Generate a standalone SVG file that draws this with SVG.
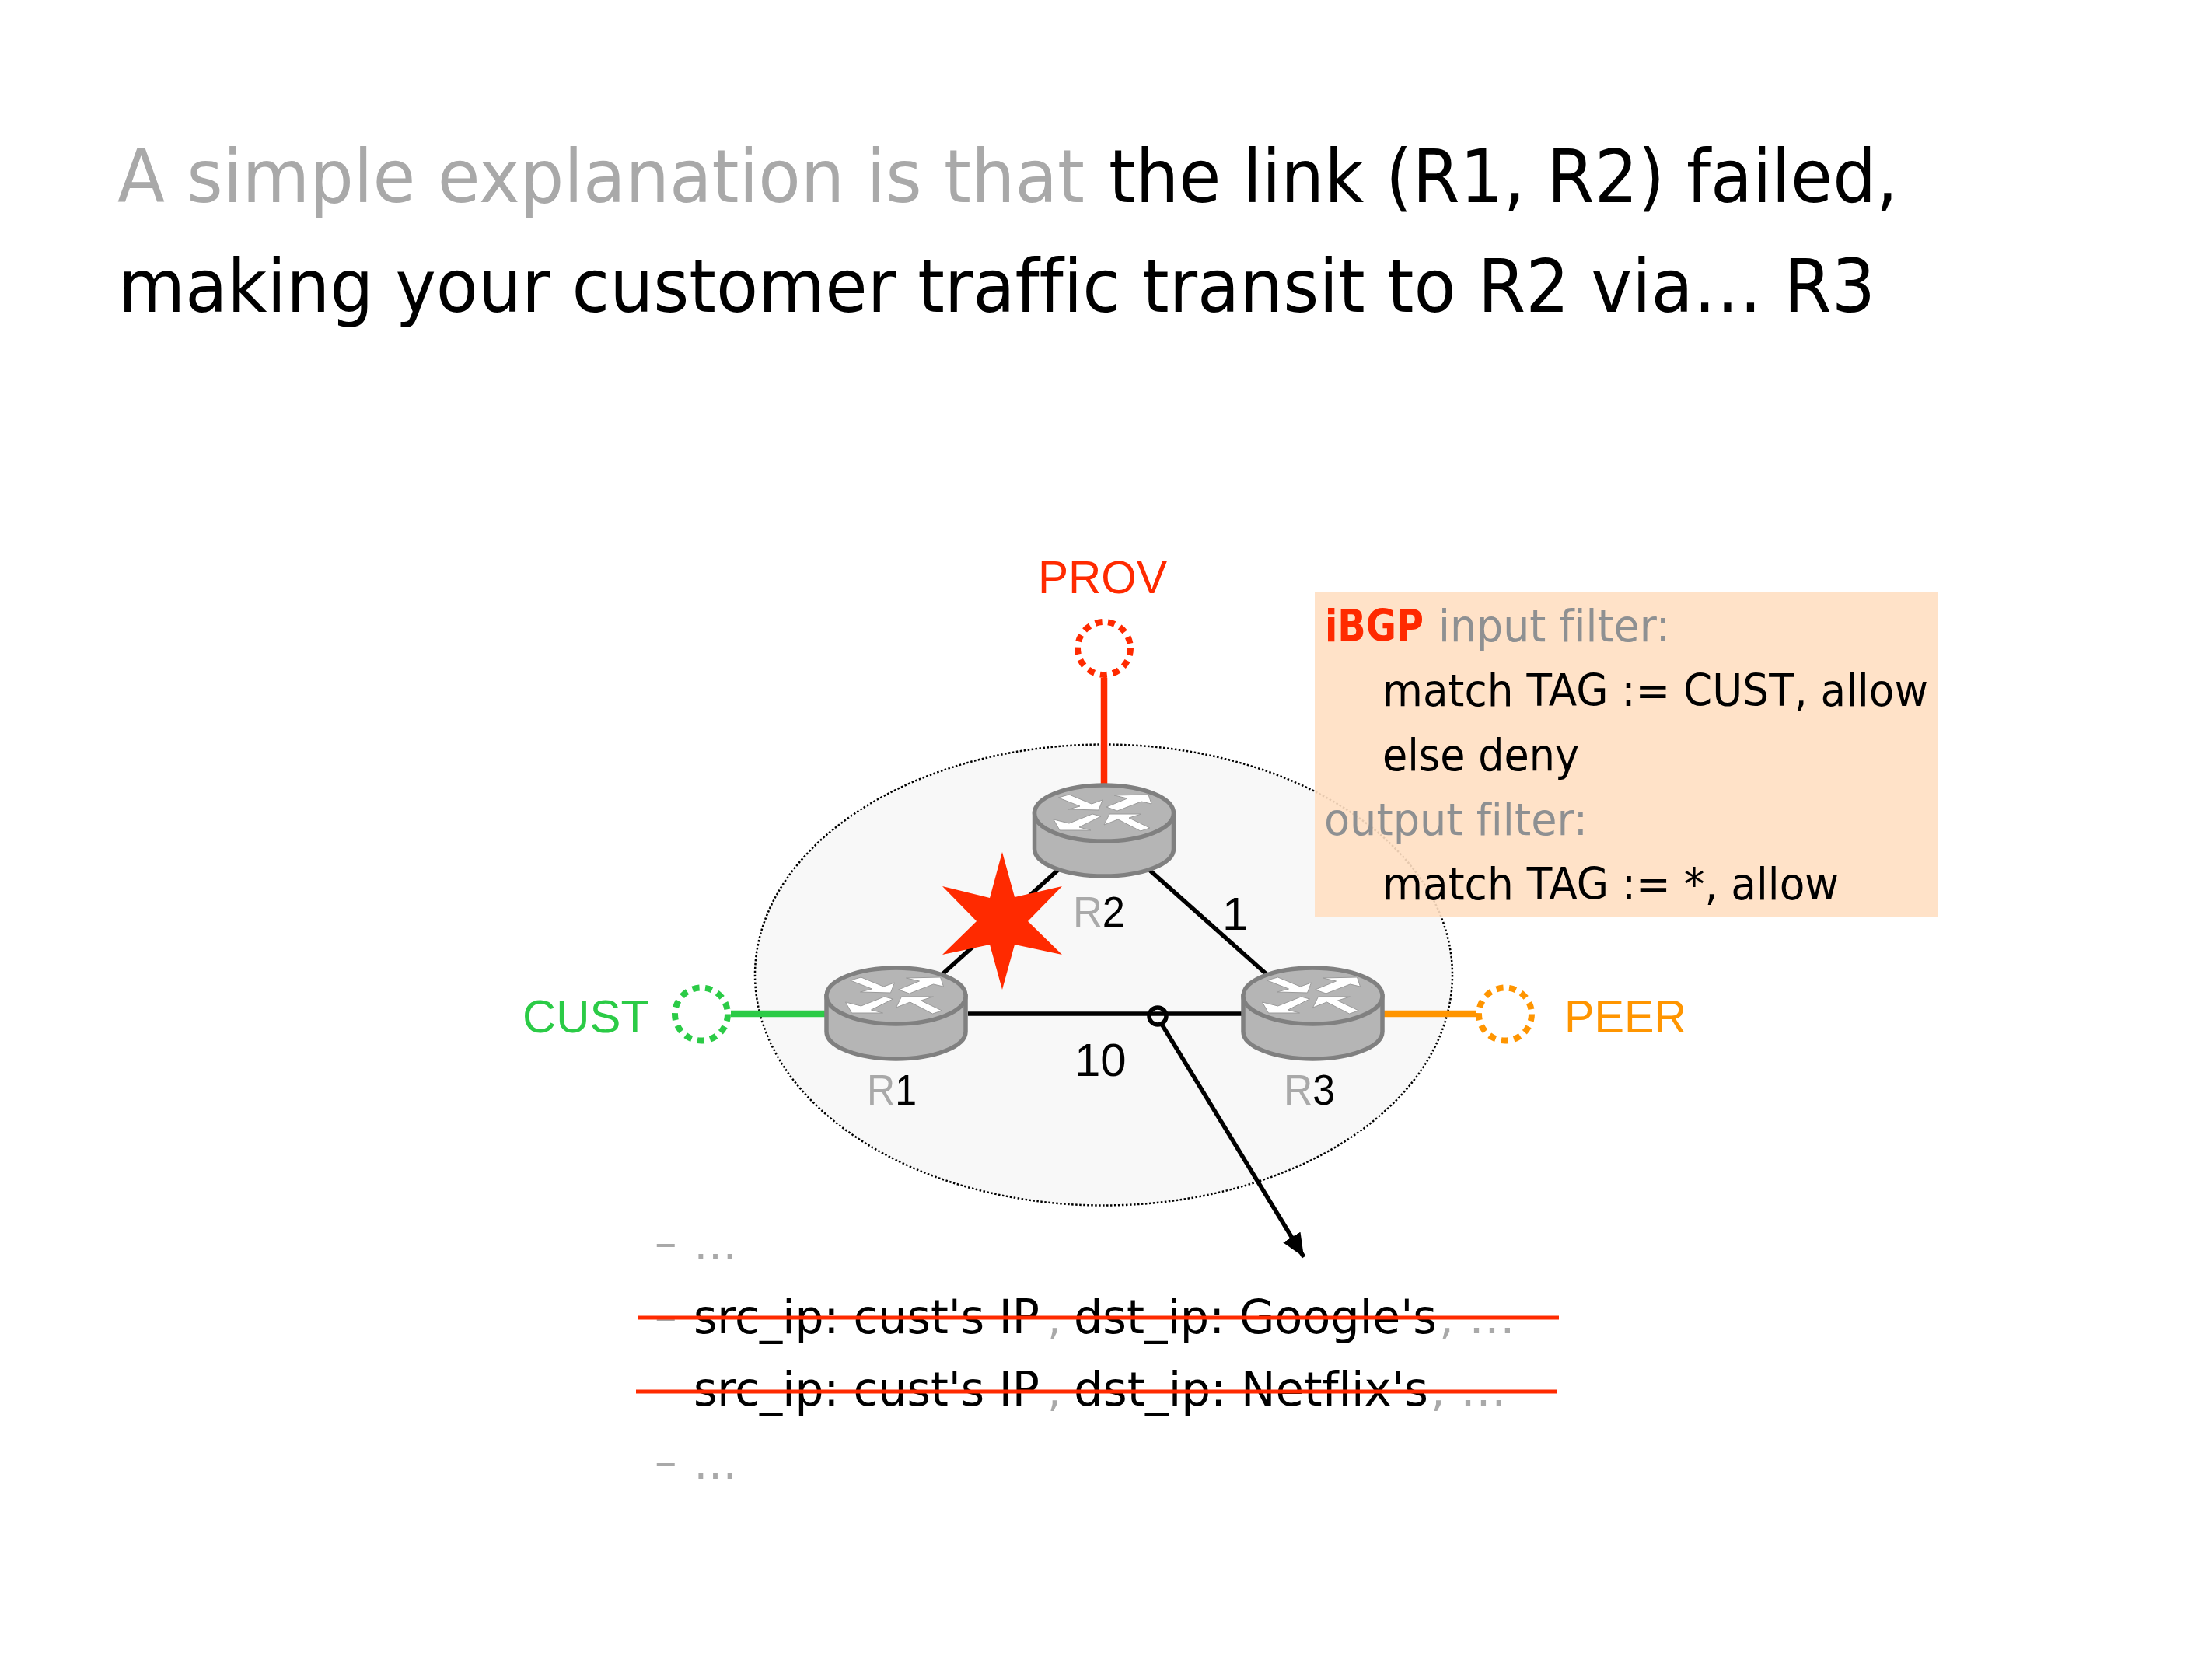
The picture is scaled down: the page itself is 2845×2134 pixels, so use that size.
<svg xmlns="http://www.w3.org/2000/svg" xmlns:xlink="http://www.w3.org/1999/xlink" width="2845" height="2134" viewBox="0 0 2845 2134">
<style>
text{font-family:"DejaVu Sans",sans-serif;font-variant-ligatures:none}
.h{font-size:94px}
.b{font-size:57px}
.m{font-size:60px}
.l{font-family:"Liberation Sans",Arial,sans-serif;font-size:60px}
.r{font-family:"Liberation Sans",Arial,sans-serif;font-size:56px}
.g{fill:#a9a9a9}
.k{fill:#000}
.f{fill:#8e9092}
.link{stroke:#000;stroke-width:5.5;fill:none}
.port{fill:none;stroke-width:8;stroke-dasharray:9 7.5}
.stub{stroke-width:8.5;fill:none}
.body{fill:#b5b5b5;stroke:#808080;stroke-width:5.5}
.arr{fill:#fff;stroke:#9a9a9a;stroke-width:1}
</style>
<defs>
<g id="router">
<path class="body" d="M-89.5 0V46A89.5 35 0 0 0 89.5 46V0Z"/>
<ellipse class="body" cx="0" cy="0" rx="89.5" ry="36"/>
<polygon class="arr" points="-59,-20 -45,-24 -16,-12 -2,-17 -7,-4 -46,-5 -31,-9"/>
<polygon class="arr" points="3,-8 30,-19 13,-23 57,-24 61,-12 48,-15 17,-3"/>
<polygon class="arr" points="-65,8 -45,13 -15,1 -4,4 -32,18 -17,22 -57,22"/>
<polygon class="arr" points="0,15 7,1 48,1 32,6 59,19 47,23 18,8"/>
</g>
<marker id="head" markerUnits="userSpaceOnUse" markerWidth="34" markerHeight="30" refX="30" refY="13" orient="auto">
<polygon points="0,0 30,13 0,26" fill="#000"/>
</marker>
</defs>
<rect width="2845" height="2134" fill="#fff"/>
<g id="title">
<text class="h g" x="151" y="260" textLength="1244" lengthAdjust="spacingAndGlyphs">A simple explanation is that</text>
<text class="h k" x="1426" y="260" textLength="1015" lengthAdjust="spacingAndGlyphs">the link (R1, R2) failed,</text>
<text class="h k" x="152" y="401" textLength="2260" lengthAdjust="spacingAndGlyphs">making your customer traffic transit to R2 via… R3</text>
</g>
<g id="domain"><ellipse cx="1419.5" cy="1254" rx="448.5" ry="296.5" fill="#f8f8f8" stroke="#000" stroke-width="2.5" stroke-dasharray="2.5 2.5"/></g>
<g id="connectors">
<line class="link" x1="1211" y1="1254" x2="1362" y2="1118"/>
<line class="link" x1="1476" y1="1117" x2="1630" y2="1254"/>
<line class="link" x1="1245" y1="1304" x2="1597" y2="1304"/>
<line class="stub" stroke="#2bcb46" x1="940" y1="1304" x2="1062" y2="1304"/>
<line class="stub" stroke="#ff2a00" x1="1420" y1="872" x2="1420" y2="1010"/>
<line class="stub" stroke="#ff9500" x1="1778" y1="1304" x2="1898" y2="1304"/>
<line class="link" x1="1494" y1="1317" x2="1677" y2="1617" marker-end="url(#head)"/>
<circle cx="1489" cy="1307" r="11" fill="none" stroke="#000" stroke-width="5.5"/>
</g>
<g id="R2"><use href="#router" x="1420" y="1046"/><text class="r" x="1380" y="1192" textLength="67" lengthAdjust="spacingAndGlyphs"><tspan class="g">R</tspan><tspan class="k">2</tspan></text></g>
<g id="R1"><use href="#router" x="1152.5" y="1281"/><text class="r" x="1115" y="1421" textLength="64" lengthAdjust="spacingAndGlyphs"><tspan class="g">R</tspan><tspan class="k">1</tspan></text></g>
<g id="R3"><use href="#router" x="1688.5" y="1281"/><text class="r" x="1651" y="1421" textLength="66" lengthAdjust="spacingAndGlyphs"><tspan class="g">R</tspan><tspan class="k">3</tspan></text></g>
<g id="star"><polygon fill="#ff2a00" points="1289,1096 1305,1154 1366,1140 1322,1185 1366,1228 1305,1215 1289,1273 1273,1215 1212,1228 1256,1185 1212,1140 1273,1155"/></g>
<g id="CUST"><circle class="port" stroke="#2bcb46" cx="902" cy="1304.5" r="34"/><text class="l" fill="#2bcb46" x="672" y="1328" textLength="163" lengthAdjust="spacingAndGlyphs">CUST</text></g>
<g id="PROV"><circle class="port" stroke="#ff2a00" cx="1420" cy="834" r="34"/><text class="l" fill="#ff2a00" x="1335" y="763" textLength="166" lengthAdjust="spacingAndGlyphs">PROV</text></g>
<g id="PEER"><circle class="port" stroke="#ff9500" cx="1936" cy="1304.5" r="34"/><text class="l" fill="#ff9500" x="2012" y="1328" textLength="157" lengthAdjust="spacingAndGlyphs">PEER</text></g>
<g id="link-labels">
<text class="l k" x="1382" y="1384">10</text>
<text class="l k" x="1572" y="1196">1</text>
</g>
<g id="filter">
<rect x="1691" y="762" width="802" height="418" fill="#ffdfc2" fill-opacity=".9"/>
<text class="b" fill="#ff2a00" font-weight="bold" x="1704" y="825" textLength="127" lengthAdjust="spacingAndGlyphs">iBGP</text>
<text class="b f" x="1850" y="825" textLength="298" lengthAdjust="spacingAndGlyphs">input filter:</text>
<text class="b k" x="1778" y="908" textLength="702" lengthAdjust="spacingAndGlyphs">match TAG := CUST, allow</text>
<text class="b k" x="1778" y="991" textLength="253" lengthAdjust="spacingAndGlyphs">else deny</text>
<text class="b f" x="1703" y="1074" textLength="339" lengthAdjust="spacingAndGlyphs">output filter:</text>
<text class="b k" x="1778" y="1157" textLength="587" lengthAdjust="spacingAndGlyphs">match TAG := *, allow</text>
</g>
<g id="matches">
<text class="b g" x="842" y="1618">–</text>
<text class="b g" x="892" y="1620" textLength="56" lengthAdjust="spacingAndGlyphs">…</text>
<text class="b g" x="842" y="1713">–</text>
<text class="m k" x="892" y="1715" textLength="445" lengthAdjust="spacingAndGlyphs">src_ip: cust's IP</text>
<text class="b g" x="1347" y="1715">,</text>
<text class="m k" x="1381" y="1715" textLength="467" lengthAdjust="spacingAndGlyphs">dst_ip: Google's</text>
<text class="b g" x="1851" y="1715" textLength="98" lengthAdjust="spacingAndGlyphs">, …</text>
<text class="m k" x="892" y="1808" textLength="445" lengthAdjust="spacingAndGlyphs">src_ip: cust's IP</text>
<text class="b g" x="1347" y="1808">,</text>
<text class="m k" x="1381" y="1808" textLength="456" lengthAdjust="spacingAndGlyphs">dst_ip: Netflix's</text>
<text class="b g" x="1840" y="1808" textLength="98" lengthAdjust="spacingAndGlyphs">, …</text>
<text class="b g" x="842" y="1900">–</text>
<text class="b g" x="892" y="1902" textLength="56" lengthAdjust="spacingAndGlyphs">…</text>
<line x1="821" y1="1695" x2="2005" y2="1695" stroke="#ff2a00" stroke-width="5"/>
<line x1="818" y1="1790" x2="2002" y2="1790" stroke="#ff2a00" stroke-width="5"/>
</g>
</svg>
